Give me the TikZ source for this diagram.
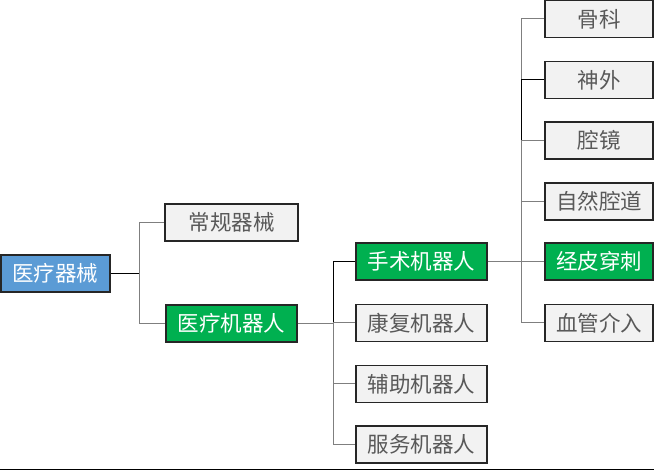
\documentclass[tikz,border=0pt]{standalone}
\usepackage{fontspec}
\setmainfont{Noto Sans CJK SC}
\definecolor{rootblue}{HTML}{5B9BD5}
\definecolor{boxgreen}{HTML}{00B050}
\definecolor{boxgray}{HTML}{F2F2F2}
\definecolor{txtgray}{HTML}{595959}
\definecolor{linegray}{HTML}{7F7F7F}
\begin{document}
\begin{tikzpicture}[x=1pt,y=-1pt,
  base/.style={draw=black!85,line width=1.3pt,minimum height=37pt,inner sep=0pt,font=\fontsize{21.5}{21.5}\selectfont},
  rootbox/.style={base,fill=rootblue,text=white,minimum width=109pt},
  greenbox/.style={base,fill=boxgreen,text=white},
  graybox/.style={base,fill=boxgray,text=txtgray},
  wide/.style={minimum width=131pt},
  narrow/.style={minimum width=108pt},
  conn/.style={draw=linegray,line width=1pt}]
\useasboundingbox (0,0) rectangle (654,473);
\node[rootbox] (root) at (55.5,273.5) {医疗器械};
\node[graybox,minimum width=133pt] (cg) at (231.5,222.5) {常规器械};
\node[greenbox,wide] (yl) at (231.5,323.5) {医疗机器人};
\node[greenbox,wide] (ss) at (421.5,261.5) {手术机器人};
\node[graybox,wide] (kf) at (421.5,323) {康复机器人};
\node[graybox,wide] (fz) at (421.5,384) {辅助机器人};
\node[graybox,wide] (fw) at (421.5,444.5) {服务机器人};
\node[graybox,narrow] (gk) at (599,19) {骨科};
\node[graybox,narrow] (sw) at (599,80) {神外};
\node[graybox,narrow] (qj) at (599,140.5) {腔镜};
\node[graybox,narrow] (zr) at (599,201.5) {自然腔道};
\node[greenbox,narrow] (jp) at (599,261.5) {经皮穿刺};
\node[graybox,narrow] (xg) at (599,323) {血管介入};
% level 1
\coordinate (j1) at (139,273.5);
\draw[conn,draw=black] (root.east) -- (j1);
\draw[conn] (j1) |- (cg.west);
\draw[conn] (j1) |- (yl.west);
% level 2
\coordinate (j2) at (333,323.5);
\draw[conn] (yl.east) -- (j2);
\draw[conn,draw=black] (j2) |- (ss.west);
\draw[conn] (j2) |- (kf.west);
\draw[conn] (j2) |- (fz.west);
\draw[conn] (j2) |- (fw.west);
% level 3
\coordinate (j3) at (521,261.5);
\draw[conn] (ss.east) -- (jp.west);
\draw[conn] (j3) |- (gk.west);
\draw[conn,draw=black] (j3) |- (sw.west);
\draw[conn] (j3) |- (qj.west);
\draw[conn] (j3) |- (zr.west);
\draw[conn] (j3) |- (xg.west);
% bottom rule
\coordinate (bl) at (0,469.5);
\coordinate (br) at (654,469.5);
\draw[line width=1.5pt] (bl) -- (br);
\end{tikzpicture}
\end{document}
